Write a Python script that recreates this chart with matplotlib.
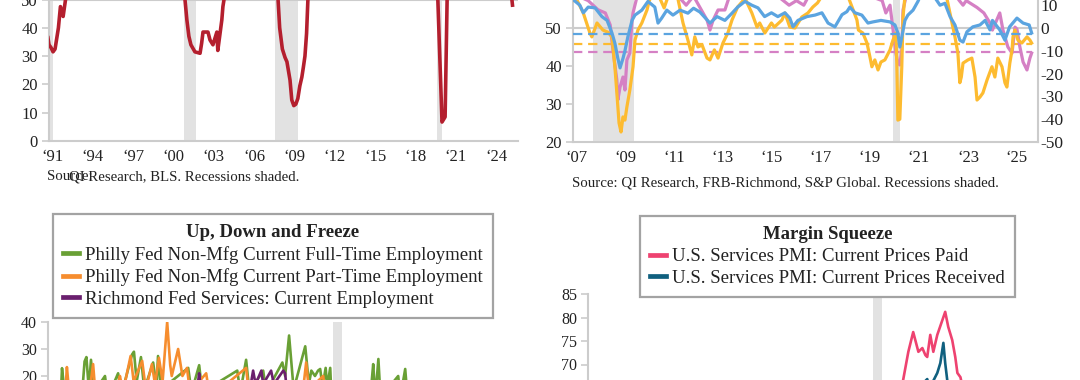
import matplotlib
matplotlib.use("Agg")
import matplotlib.pyplot as plt
from matplotlib.lines import Line2D

plt.rcParams['font.family'] = ['Liberation Serif', 'DejaVu Serif']
plt.rcParams['axes.unicode_minus'] = False

# ---------------- data: top-left (BLS diffusion) ----------------
tl_dates = [1990.67, 1990.75, 1990.9, 1991.05, 1991.2, 1991.45, 1991.6, 1991.8, 1991.95, 1992.1,
            1992.6, 1993.5, 1994.5, 1995.5, 1996.5, 1997.5, 1998.5, 1999.5, 2000.3, 2000.86,
            2001.0, 2001.15, 2001.3, 2001.6, 2001.98, 2002.1, 2002.2, 2002.57, 2002.72, 2002.94,
            2003.23, 2003.3, 2003.6, 2003.68, 2003.83, 2004.3, 2005.0, 2006.0, 2007.0, 2007.5,
            2007.78, 2007.9, 2008.1, 2008.3, 2008.44, 2008.67, 2008.8, 2008.95, 2009.1, 2009.25,
            2009.4, 2009.55, 2009.66, 2009.78, 2009.9, 2010.0, 2010.5, 2011.5, 2012.5, 2013.5,
            2014.5, 2015.5, 2016.5, 2017.5, 2018.5, 2019.3, 2019.6, 2019.66, 2019.97, 2020.2,
            2020.35, 2020.5, 2021.0, 2022.0, 2023.0, 2024.0, 2024.8, 2025.1, 2025.21]
tl_values = [36.5, 34, 33, 31.5, 32.5, 40, 47.5, 44, 49, 54,
             60, 64, 68, 60, 66, 68, 64, 63, 60, 50,
             42.8, 37, 34, 31.5, 31, 34.6, 38.5, 38.5, 35.7, 34,
             38.5, 32, 42.8, 47.5, 52, 62, 64, 63, 60, 56,
             50, 40, 32.5, 29.5, 28, 21.5, 14.5, 12.5, 13, 15,
             19.5, 22.6, 26, 30, 38, 50, 58, 62, 60, 64,
             65, 63, 60, 62, 61, 58, 55, 50, 6.7, 8.5,
             50, 58, 66, 68, 60, 56, 55, 53, 48]
tl_recessions = [(1990.6, 1991.05), (2000.78, 2001.67), (2007.53, 2009.24), (2019.62, 2019.99)]
tl_xtick_years = [1991, 1994, 1997, 2000, 2003, 2006, 2009, 2012, 2015, 2018, 2021, 2024]
tl_xtick_labels = ['\u201891', '\u201894', '\u201897', '\u201800', '\u201803', '\u201806',
                   '\u201809', '\u201812', '\u201815', '\u201818', '\u201821', '\u201824']
tl_yticks = [0, 10, 20, 30, 40, 50, 60, 70]

# ---------------- data: top-right (surveys) ----------------
tr_blue_dates = [2006.88, 2007.16, 2007.3, 2007.5, 2007.78, 2008.06, 2008.27, 2008.47, 2008.59, 2008.71,
                 2008.8, 2008.92, 2009.0, 2009.12, 2009.29, 2009.41, 2009.69, 2009.94, 2010.22, 2010.35,
                 2010.5, 2010.71, 2010.96, 2011.25, 2011.57, 2011.8, 2012.06, 2012.47, 2012.76, 2013.08,
                 2013.37, 2013.6, 2013.9, 2014.18, 2014.43, 2014.7, 2014.98, 2015.24, 2015.53, 2015.73,
                 2015.86, 2016.06, 2016.43, 2016.76, 2017.04, 2017.29, 2017.57, 2017.86, 2018.06, 2018.18,
                 2018.39, 2018.67, 2018.92, 2019.12, 2019.45, 2019.82, 2020.02, 2020.14, 2020.22, 2020.3,
                 2020.43, 2020.55, 2020.76, 2020.96, 2021.3, 2021.65, 2021.86, 2022.06, 2022.27, 2022.47,
                 2022.67, 2022.8, 2022.96, 2023.2, 2023.49, 2023.7, 2023.9, 2024.0, 2024.3, 2024.51,
                 2024.7, 2025.0, 2025.25, 2025.5, 2025.6]
tr_blue_values = [57.5, 56, 54, 55.5, 55.3, 53, 52, 48.7, 46, 42,
                  39.5, 42, 44, 47.7, 52, 53.4, 54.7, 57, 55.5, 51.3,
                  52.6, 54.7, 53.4, 54.7, 53.9, 55.2, 54.2, 51.3, 53, 52,
                  53.9, 55.5, 57, 56, 55.3, 53, 54, 53, 54, 52.6,
                  50.3, 52, 53, 53.4, 54, 51.3, 50.3, 53.5, 54.3, 55.5,
                  54, 53.4, 51.3, 51.6, 52, 51.6, 50.8, 48.7, 45, 47.6,
                  52, 53.4, 54.7, 57, 62, 58, 56, 56.5, 53, 50.8,
                  46.8, 46.3, 49, 50.3, 50.8, 52, 49.5, 52, 49.5, 46.8,
                  50.3, 52.6, 51.3, 50.8, 48.7]

tr_yellow_dates = [2006.88, 2007.04, 2007.3, 2007.57, 2007.65, 2007.86, 2008.1, 2008.3, 2008.47, 2008.59,
                   2008.67, 2008.76, 2008.84, 2008.92, 2009.0, 2009.08, 2009.2, 2009.33, 2009.41, 2009.53,
                   2009.69, 2009.9, 2010.0, 2010.3, 2010.6, 2010.8, 2011.1, 2011.37, 2011.57, 2011.73,
                   2011.85, 2011.98, 2012.15, 2012.35, 2012.47, 2012.65, 2012.8, 2013.0, 2013.2, 2013.37,
                   2013.6, 2013.9, 2014.18, 2014.39, 2014.5, 2014.71, 2014.98, 2015.1, 2015.41, 2015.53,
                   2015.73, 2015.94, 2016.22, 2016.47, 2016.67, 2016.86, 2017.04, 2017.5, 2018.1, 2018.27,
                   2018.47, 2018.53, 2018.71, 2018.88, 2019.0, 2019.08, 2019.2, 2019.33, 2019.45, 2019.61,
                   2019.82, 2019.94, 2020.06, 2020.1, 2020.14, 2020.22, 2020.3, 2020.35, 2020.43, 2020.8,
                   2021.3, 2021.8, 2022.14, 2022.35, 2022.47, 2022.59, 2022.67, 2022.73, 2022.8, 2023.0,
                   2023.16, 2023.29, 2023.37, 2023.49, 2023.61, 2023.78, 2023.98, 2024.1, 2024.22, 2024.39,
                   2024.51, 2024.59, 2024.71, 2024.8, 2024.84, 2024.92, 2025.04, 2025.2, 2025.41, 2025.53,
                   2025.6]
tr_yellow_values = [12, 12.3, 6.6, -2.2, -3.9, 2.2, -0.9, -1.8, -3.9, -17,
                    -28.5, -41.7, -45.6, -39, -40.4, -34.6, -27.2, -17, -5.3, -0.9,
                    2.2, 7.9, 12.3, 16, 8.8, 15, 16, 2.2, -5.3, -11.8,
                    -3.9, -8.3, -7.5, -13.2, -14, -9.6, -13.2, -6.6, -2.2, 3.5,
                    9.2, 13, 6.6, 0.4, 2.2, -2.2, 2.2, 0.4, 3.5, 6.6,
                    0.4, 0, 4.8, 6.6, 9.2, 11, 14, 18, 14, 9.2,
                    3.5, -0.9, -2.2, -6.6, -12.7, -17, -14, -18.4, -14.9, -14,
                    -9.6, -5.3, -2.2, -17, -40.4, -40, -17, 4.8, 14, 20,
                    25, 22, 13, 2.2, -3.9, -11, -24, -21.5, -15.4, -14,
                    -13.2, -21.5, -31.6, -30.3, -28.5, -22.8, -17, -21.5, -13.2, -17,
                    -24, -25.9, -15.4, -9.6, -3.9, -0.9, -5.3, -6.6, -3.9, -5.3,
                    -6.6]

tr_pink_dates = [2006.88, 2007.5, 2007.9, 2008.2, 2008.4, 2008.45, 2008.51, 2008.67, 2008.71, 2008.8,
                 2008.92, 2009.0, 2009.08, 2009.2, 2009.29, 2009.33, 2009.5, 2010.0, 2011.0, 2011.5,
                 2011.8, 2012.35, 2012.47, 2012.6, 2012.8, 2013.08, 2013.3, 2014.0, 2015.0, 2015.7,
                 2016.0, 2016.3, 2016.6, 2017.5, 2018.5, 2019.0, 2019.5, 2019.65, 2019.82, 2020.06,
                 2020.14, 2020.22, 2020.3, 2020.35, 2020.5, 2021.0, 2022.0, 2022.65, 2022.8, 2022.93,
                 2023.37, 2023.65, 2023.9, 2024.0, 2024.3, 2024.43, 2024.63, 2024.8, 2024.92, 2025.0,
                 2025.12, 2025.25, 2025.41, 2025.53, 2025.6]
tr_pink_values = [15, 12, 8, 6.6, 1.3, -3.9, -9.6, -22.8, -31.6, -25.9,
                  -21.5, -27.2, -14, -11, 3.5, 6.6, 14, 18, 16, 10,
                  14, 3.5, -0.9, 3.5, 7.9, 7.9, 15, 18, 16, 10,
                  12, 10, 16, 20, 18, 14, 12, 6.6, 10, -11,
                  -15.4, -16.2, -9.6, 7.9, 15, 25, 22, 12, 10, 12,
                  9, 6.6, 2.2, -0.9, 6.6, -0.9, -8.3, -11, 0.4, -0.5,
                  -8.3, -14.9, -18.4, -13.2, -11]

tr_blue_threshold = 48.4      # left axis
tr_yellow_threshold = -7.0    # right axis
tr_pink_threshold = -10.5     # right axis
tr_recessions = [(2007.69, 2009.37), (2019.94, 2020.22)]
tr_xtick_years = [2007, 2009, 2011, 2013, 2015, 2017, 2019, 2021, 2023, 2025]
tr_xtick_labels = ['\u201807', '\u201809', '\u201811', '\u201813', '\u201815',
                   '\u201817', '\u201819', '\u201821', '\u201823', '\u201825']
tr_left_yticks = [20, 30, 40, 50, 60, 70]
tr_right_yticks = [-50, -40, -30, -20, -10, 0, 10, 20, 30]

# ---------------- data: bottom-left (Up, Down and Freeze) ----------------
bl_green_dates = [2011.15, 2011.2, 2011.3, 2011.85, 2011.94, 2012.0, 2012.08, 2012.15, 2012.25, 2012.61,
                  2012.7, 2013.04, 2013.15, 2013.37, 2013.5, 2013.56, 2013.65, 2013.79, 2013.9, 2014.19,
                  2014.3, 2014.35, 2014.45, 2015.34, 2015.45, 2015.7, 2015.8, 2016.95, 2017.05, 2017.24,
                  2017.35, 2017.8, 2017.9, 2018.43, 2018.52, 2018.65, 2018.8, 2019.18, 2019.3, 2019.38,
                  2019.5, 2019.6, 2019.67, 2019.75, 2019.85, 2019.9, 2020.0, 2020.05, 2020.25, 2020.8,
                  2021.3, 2021.41, 2021.48, 2021.58, 2021.65, 2022.23, 2022.3, 2022.46, 2022.55, 2023.5,
                  2024.5, 2025.6]
bl_green_values = [10, 22.9, 12, 12, 25.4, 27, 15, 26, 14, 20,
                   12, 21, 13, 22.6, 28, 29, 18, 27, 15, 25,
                   16, 27.4, 15, 23, 14, 24, 14, 22, 14, 26,
                   14, 22, 14, 25, 20, 35, 15, 31, 17, 22,
                   20, 22, 22.6, 16, 23, 16, 23, 10, -20, -5,
                   10, 24.4, 12, 26.3, 12, 20, 12, 22.6, 10, 5,
                   0, -5]

bl_orange_dates = [2011.3, 2011.36, 2011.45, 2012.1, 2012.22, 2012.3, 2013.0, 2013.1, 2013.2, 2013.45,
                   2013.55, 2013.83, 2013.95, 2014.15, 2014.25, 2014.38, 2014.5, 2014.65, 2014.75, 2014.8,
                   2015.01, 2015.15, 2015.3, 2015.4, 2015.93, 2016.05, 2017.24, 2017.35, 2019.1, 2019.21,
                   2019.3, 2019.77, 2019.85, 2020.0, 2020.3, 2021.0, 2023.0, 2025.6]
bl_orange_values = [12, 23.3, 12, 14, 24.4, 13, 15, 20, 14, 27.4,
                    18, 25.6, 15, 24.4, 17, 26.7, 18, 40, 24, 20,
                    30, 20, 23, 14, 21, 12, 23, 12, 14, 25,
                    15, 20, 12, 5, -30, 0, -5, -10]

bl_purple_dates = [2011.2, 2013.0, 2015.6, 2015.7, 2015.8, 2017.35, 2017.47, 2017.55, 2017.74, 2017.8,
                   2018.06, 2018.15, 2018.46, 2018.52, 2018.6, 2019.5, 2020.3, 2022.0, 2025.6]
bl_purple_values = [5, 8, 12, 21, 10, 14, 22, 17, 22, 17,
                    22, 17, 22, 21, 12, 8, -25, 10, 0]
bl_recession = (2020.1, 2020.4)
bl_yticks = [-40, -30, -20, -10, 0, 10, 20, 30, 40]
bl_labels = ['Philly Fed Non-Mfg Current Full-Time Employment',
             'Philly Fed Non-Mfg Current Part-Time Employment',
             'Richmond Fed Services: Current Employment']

# ---------------- data: bottom-right (Margin Squeeze) ----------------
br_paid_dates = [2010.8, 2012.0, 2014.0, 2016.0, 2018.0, 2019.5, 2020.2, 2020.5, 2020.9, 2021.08,
                 2021.25, 2021.41, 2021.58, 2021.71, 2021.81, 2021.87, 2021.97, 2022.07, 2022.2, 2022.37,
                 2022.46, 2022.56, 2022.69, 2022.79, 2022.86, 2022.96, 2023.1, 2023.5, 2024.0, 2024.5,
                 2025.0, 2025.6]
br_paid_values = [58, 56, 57, 55, 58, 57, 48, 55, 62, 66.7,
                  72.7, 76.9, 72.7, 73.5, 72.0, 71.6, 76.3, 72.7, 76.3, 79.5,
                  81.2, 78.0, 75.2, 71.6, 68.2, 67.3, 63, 60, 59, 58,
                  61, 62]
br_recv_dates = [2010.8, 2014.0, 2018.0, 2020.2, 2020.6, 2021.2, 2021.7, 2021.81, 2021.87, 2021.95,
                 2022.2, 2022.3, 2022.4, 2022.46, 2022.53, 2022.7, 2023.0, 2024.0, 2025.6]
br_recv_values = [52, 53, 54, 42, 52, 60, 64, 66.5, 66.9, 65,
                  68.2, 70.3, 74.6, 70.3, 66.5, 63, 58, 56, 57]
br_recession = (2020.1, 2020.4)
br_yticks = [45, 50, 55, 60, 65, 70, 75, 80, 85]
br_labels = ['U.S. Services PMI: Current Prices Paid',
             'U.S. Services PMI: Current Prices Received']

# ---------------- styling ----------------
W, H = 1080, 380
fig = plt.figure(figsize=(W / 100, H / 100), dpi=100)

GRID = '#cccccc'
SHADE = '#e2e2e2'
TXT = '#222222'
RED = '#b41f2e'
PINK = '#d580c4'
YELLOW = '#fdbb30'
BLUE = '#5ba4e0'
GREEN = '#69a035'
ORANGE = '#f68d2e'
PURPLE = '#6a1f6e'
PAID = '#ee4270'
RECV = '#10607f'
TICK_FS = 12
SRC_FS = 10.7
LEG_FS = 13.5


def add_ax(x0, x1, ytop, ybot):
    return fig.add_axes([x0 / W, 1 - ybot / H, (x1 - x0) / W, (ybot - ytop) / H])


def style(ax, visible):
    for name, sp in ax.spines.items():
        sp.set_visible(name in visible)
        sp.set_color(GRID)
        sp.set_linewidth(1.5)
    ax.set_facecolor('none')
    ax.tick_params(labelcolor=TXT, labelsize=TICK_FS, color=GRID, width=1.2)


def make_legend(ax, handles, labels, title, x0_px, ybot_px):
    leg = ax.legend(handles, labels, title=title, loc='lower left',
                    bbox_to_anchor=(x0_px / W, 1 - ybot_px / H), bbox_transform=fig.transFigure,
                    borderaxespad=0, fontsize=LEG_FS,
                    title_fontproperties={'weight': 'bold', 'size': LEG_FS},
                    frameon=True, fancybox=False, framealpha=1, edgecolor='#a3a3a3',
                    handlelength=0.85, handletextpad=0.3, labelspacing=0.24, borderpad=0.55)
    leg.get_frame().set_linewidth(1.6)
    for t in leg.get_texts():
        t.set_color(TXT)
    leg.get_title().set_color(TXT)
    return leg


# ---- top-left ----
ax1 = add_ax(49, 518, 141 - 70 * 2.83, 141)
style(ax1, ('left', 'bottom'))
ax1.set_xlim(1990.75, 2025.62)
ax1.set_ylim(0, 70)
for a, b in tl_recessions:
    ax1.axvspan(a, b, color=SHADE, lw=0, zorder=0)
ax1.axhline(50, color=GRID, lw=1.5, zorder=1)
ax1.plot(tl_dates, tl_values, color=RED, lw=2.6, zorder=3, solid_joinstyle='round')
ax1.set_xticks(tl_xtick_years)
ax1.set_xticklabels(tl_xtick_labels)
ax1.set_yticks(tl_yticks)
ax1.set_yticklabels([str(v) for v in tl_yticks])
ax1.tick_params(axis='x', length=0, pad=6)
ax1.tick_params(axis='y', length=5, pad=3)
fig.text(47 / W, 1 - 177 / H, 'Source:', fontsize=SRC_FS, color=TXT, va='center')
fig.text(69 / W, 1 - 177 / H, 'QI Research, BLS. Recessions shaded.', fontsize=SRC_FS, color=TXT,
         va='center')

# ---- top-right ----
axr = add_ax(573, 1038, -48, 142)
style(axr, ('left', 'bottom', 'right'))
axr.set_xlim(2006.88, 2025.86)
axr.set_ylim(-50, 33.33)
axl = axr.twinx()
style(axl, ())
axl.set_ylim(20, 70)
axr.yaxis.tick_right()
axl.yaxis.tick_left()
for a, b in tr_recessions:
    axr.axvspan(a, b, color=SHADE, lw=0, zorder=0)
axr.axhline(0, color=GRID, lw=1.5, zorder=1)
x_span = [tr_blue_dates[0], tr_blue_dates[-1]]
axr.plot(x_span, [tr_pink_threshold] * 2, color=PINK, lw=1.6, dashes=(4.2, 2.6), zorder=2)
axr.plot(x_span, [tr_yellow_threshold] * 2, color=YELLOW, lw=1.6, dashes=(4.2, 2.6), zorder=2)
axr.plot(tr_pink_dates, tr_pink_values, color=PINK, lw=2.3, zorder=3, solid_joinstyle='round')
axr.plot(tr_yellow_dates, tr_yellow_values, color=YELLOW, lw=2.3, zorder=4, solid_joinstyle='round')
axl.plot(x_span, [tr_blue_threshold] * 2, color=BLUE, lw=1.6, dashes=(4.2, 2.6), zorder=2)
axl.plot(tr_blue_dates, tr_blue_values, color=BLUE, lw=2.3, zorder=3, solid_joinstyle='round')
axr.set_xticks(tr_xtick_years)
axr.set_xticklabels(tr_xtick_labels)
axr.tick_params(axis='x', length=0, pad=6)
axr.set_yticks(tr_right_yticks)
axr.set_yticklabels([str(v) for v in tr_right_yticks])
axr.tick_params(axis='y', length=0, pad=2, labelsize=12.5)
axl.set_yticks(tr_left_yticks)
axl.set_yticklabels([str(v) for v in tr_left_yticks])
axl.tick_params(axis='y', length=5, pad=3)
fig.text(572 / W, 1 - 183 / H, 'Source: QI Research, FRB-Richmond, S&P Global. Recessions shaded.',
         fontsize=SRC_FS, color=TXT, va='center')

# ---- bottom-left ----
axbl = add_ax(48, 507, 322, 322 + 80 * 2.7)
style(axbl, ('left', 'bottom'))
axbl.set_xlim(2010.74, 2025.8)
axbl.set_ylim(-40, 40)
axbl.axvspan(*bl_recession, color=SHADE, lw=0, zorder=0)
axbl.plot(bl_green_dates, bl_green_values, color=GREEN, lw=1.9, zorder=3)
axbl.plot(bl_orange_dates, bl_orange_values, color=ORANGE, lw=1.9, zorder=4)
axbl.plot(bl_purple_dates, bl_purple_values, color=PURPLE, lw=1.9, zorder=5)
axbl.set_yticks(bl_yticks)
axbl.set_yticklabels([str(v) for v in bl_yticks])
axbl.tick_params(axis='y', length=5, pad=3, labelsize=11.5)
axbl.set_xticks([])
h_bl = [Line2D([], [], color=c, lw=3.4) for c in (GREEN, ORANGE, PURPLE)]
make_legend(axbl, h_bl, bl_labels, 'Up, Down and Freeze', 53, 318)

# ---- bottom-right ----
axbr = add_ax(588, 1047, 294, 482)
style(axbr, ('left', 'bottom'))
axbr.set_xlim(2010.74, 2025.8)
axbr.set_ylim(45, 85)
axbr.axvspan(*br_recession, color=SHADE, lw=0, zorder=0)
axbr.plot(br_paid_dates, br_paid_values, color=PAID, lw=1.9, zorder=3)
axbr.plot(br_recv_dates, br_recv_values, color=RECV, lw=1.9, zorder=4)
axbr.set_yticks(br_yticks)
axbr.set_yticklabels([str(v) for v in br_yticks])
axbr.tick_params(axis='y', length=5, pad=3, labelsize=11.5)
axbr.set_xticks([])
h_br = [Line2D([], [], color=c, lw=3.4) for c in (PAID, RECV)]
make_legend(axbr, h_br, br_labels, 'Margin Squeeze', 640, 297)

fig.savefig('out.png', dpi=100)
